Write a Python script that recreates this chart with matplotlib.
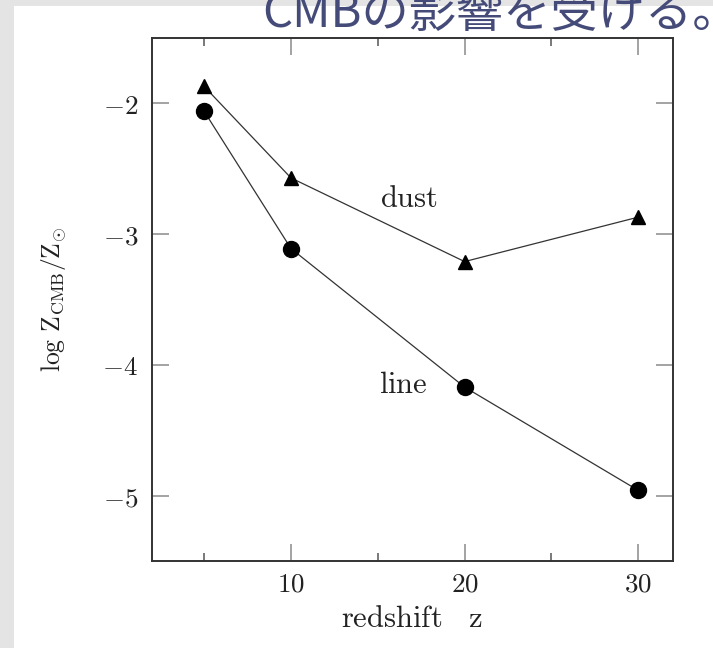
import matplotlib
matplotlib.use("Agg")
import matplotlib.pyplot as plt
from matplotlib.patches import Rectangle
from matplotlib.ticker import FixedLocator

plt.rcParams['mathtext.fontset'] = 'cm'
plt.rcParams['font.family'] = ['Noto Sans CJK JP', 'DejaVu Sans']

# Metallicity at which CMB affects cooling, vs redshift
redshift = [5, 10, 20, 30]
dust_logZ = [-1.87, -2.57, -3.21, -2.87]
line_logZ = [-2.06, -3.11, -4.17, -4.96]

x_ticks = [10, 20, 30]
x_tick_labels = [r'$10$', r'$20$', r'$30$']
x_minor_ticks = [5, 15, 25]
y_ticks = [-5, -4, -3, -2]
y_tick_labels = [r'$-5$', r'$-4$', r'$-3$', r'$-2$']

title_text = 'CMBの影響を受ける。'
x_label = r'$\mathrm{redshift\quad z}$'
y_label = r'$\mathrm{log\ Z_{CMB}/Z_{\odot}}$'

W, H = 713, 648
fig = plt.figure(figsize=(W / 100, H / 100), dpi=100)
fig.patch.set_facecolor('#e4e4e4')

# white slide panel behind everything
bg = fig.add_axes([0, 0, 1, 1], zorder=-10)
bg.set_axis_off()
bg.set_xlim(0, W)
bg.set_ylim(H, 0)
bg.add_patch(Rectangle((14, 6), W - 14, H - 6, facecolor='white', edgecolor='none'))

# slide heading, cropped at the top edge
bg.text(262, 27, title_text, fontsize=34, color='#454b78',
        ha='left', va='baseline')

ax = fig.add_axes([152 / W, 1 - 561 / H, (673 - 152) / W, (561 - 38) / H], zorder=1)
ax.set_xlim(2, 32)
ax.set_ylim(-5.5, -1.5)

ax.plot(redshift, dust_logZ, color='#333333', lw=0.9, marker='^', ms=10,
        mfc='black', mec='black', clip_on=False)
ax.plot(redshift, line_logZ, color='#333333', lw=0.9, marker='o', ms=11.5,
        mfc='black', mec='black', clip_on=False)

ax.text(16.8, -2.73, r'$\mathrm{dust}$', fontsize=22, ha='center', va='center',
        color='#222222')
ax.text(16.45, -4.15, r'$\mathrm{line}$', fontsize=22, ha='center', va='center',
        color='#222222')

ax.xaxis.set_major_locator(FixedLocator(x_ticks))
ax.set_xticklabels(x_tick_labels)
ax.xaxis.set_minor_locator(FixedLocator(x_minor_ticks))
ax.yaxis.set_major_locator(FixedLocator(y_ticks))
ax.set_yticklabels(y_tick_labels)

ax.tick_params(which='major', direction='in', length=12, width=1.1,
               color='#8a8a8a', top=True, right=True, labelsize=19.5,
               labelcolor='#222222')
ax.tick_params(which='minor', direction='in', length=5.5, width=1.1,
               color='#555555', top=True, right=True)
ax.tick_params(axis='x', which='major', pad=7)
ax.tick_params(axis='y', which='major', pad=10)

for s in ax.spines.values():
    s.set_linewidth(1.4)
    s.set_color('#333333')

ax.set_xlabel(x_label, fontsize=22, labelpad=4, color='#222222')
ax.set_ylabel(y_label, fontsize=18.5, labelpad=24, color='#222222')

fig.savefig('out.png', dpi=100, facecolor=fig.get_facecolor())
